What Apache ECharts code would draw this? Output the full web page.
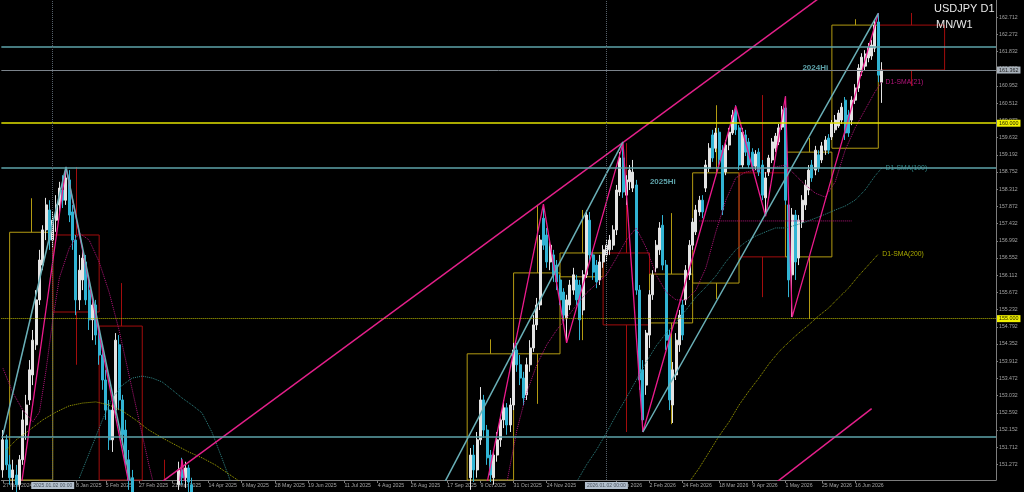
<!DOCTYPE html>
<html>
<head>
<meta charset="utf-8">
<script src="https://cdn.jsdelivr.net/npm/echarts@6/dist/echarts.min.js"></script>
<style>
  html, body { margin: 0; padding: 0; background: #000; }
  #main { width: 1024px; height: 492px; }
</style>
</head>
<body>
<div id="main"></div>
<script>
const FONT = 'Liberation Sans, Arial, sans-serif';
const BAR_COUNT = 300;

// daily candles: [bar, open, close, low, high]
const candleRows = [
  [0, 151.13, 151.90, 150.93, 152.15], [1, 151.90, 151.26, 151.13, 152.03],
  [2, 151.26, 150.93, 150.75, 151.51], [3, 150.93, 151.13, 150.62, 151.39],
  [4, 151.00, 150.75, 150.49, 151.26], [5, 150.75, 151.39, 150.62, 151.51],
  [6, 151.39, 152.41, 151.26, 152.66], [7, 152.28, 152.79, 151.90, 153.05],
  [8, 152.92, 153.69, 152.79, 153.94], [9, 153.56, 154.45, 153.30, 154.71],
  [10, 154.33, 155.48, 154.20, 155.73], [11, 155.48, 156.50, 155.35, 156.76],
  [12, 156.37, 157.27, 156.24, 157.39], [13, 157.27, 157.91, 157.01, 158.09],
  [14, 157.78, 157.01, 156.76, 158.03], [15, 157.01, 157.52, 156.81, 157.73],
  [16, 157.52, 157.91, 157.22, 158.16], [17, 157.91, 158.34, 157.65, 158.50],
  [18, 158.29, 158.03, 157.83, 158.67], [19, 158.03, 158.60, 157.91, 158.88],
  [20, 158.55, 157.65, 157.47, 158.80], [21, 157.73, 157.01, 156.76, 157.91],
  [22, 157.01, 155.48, 155.09, 157.14], [23, 155.48, 156.24, 155.22, 156.63],
  [24, 155.99, 156.55, 155.73, 156.76], [25, 156.45, 155.48, 155.35, 156.63],
  [26, 155.73, 154.97, 154.71, 155.99], [27, 154.97, 155.35, 154.45, 155.53],
  [28, 155.35, 154.58, 154.33, 155.48], [29, 154.58, 154.07, 153.82, 154.84],
  [30, 154.07, 153.43, 153.18, 154.33], [31, 153.43, 152.66, 152.41, 153.69],
  [32, 152.66, 151.90, 151.64, 152.92], [33, 151.90, 152.66, 151.59, 152.92],
  [34, 152.66, 154.45, 152.46, 154.63], [35, 154.33, 152.92, 152.66, 154.58],
  [36, 152.92, 152.03, 151.77, 153.05], [37, 152.15, 151.39, 151.18, 152.41],
  [38, 151.39, 150.87, 150.62, 151.64], [39, 150.93, 150.49, 150.36, 151.13],
  [40, 150.49, 150.24, 149.98, 150.87], [41, 150.24, 149.98, 149.72, 150.49],
  [53, 150.75, 151.13, 150.62, 151.34], [54, 151.13, 150.93, 150.75, 151.44],
  [55, 150.93, 151.18, 150.67, 151.34], [56, 151.18, 150.82, 150.49, 151.26],
  [57, 150.75, 150.49, 150.24, 150.93],
  [141, 150.93, 151.51, 150.62, 151.69], [142, 151.51, 151.13, 150.82, 151.77],
  [143, 151.13, 151.90, 150.93, 152.10], [144, 151.90, 152.92, 151.77, 153.25],
  [145, 152.92, 152.15, 151.95, 153.05], [146, 152.15, 151.44, 151.26, 152.28],
  [147, 151.51, 151.00, 150.82, 151.64], [148, 150.93, 151.51, 150.75, 151.64],
  [149, 151.51, 151.90, 151.34, 152.10], [150, 151.90, 152.41, 151.72, 152.54],
  [151, 152.41, 152.72, 152.20, 152.92], [152, 152.72, 152.28, 152.03, 152.84],
  [153, 152.28, 152.79, 152.10, 152.97], [154, 152.79, 154.20, 152.66, 154.38],
  [155, 154.20, 153.82, 153.64, 154.38], [156, 153.82, 153.48, 153.30, 154.07],
  [157, 153.48, 152.97, 152.79, 153.64], [158, 153.05, 153.82, 152.92, 154.00],
  [159, 153.82, 154.25, 153.64, 154.45], [160, 154.25, 154.84, 154.15, 155.09],
  [161, 154.84, 155.35, 154.71, 155.53], [162, 155.35, 157.01, 155.22, 157.14],
  [163, 157.57, 156.88, 156.76, 157.93], [164, 157.14, 156.45, 156.30, 157.32],
  [165, 156.45, 156.88, 156.24, 157.01], [166, 156.63, 156.12, 155.94, 156.76],
  [167, 156.37, 155.94, 155.73, 156.50], [168, 155.99, 155.48, 155.35, 156.12],
  [169, 155.68, 155.09, 154.92, 155.78], [170, 155.02, 155.48, 154.38, 155.61],
  [171, 155.35, 155.86, 155.22, 155.99], [172, 155.73, 156.12, 155.61, 156.30],
  [173, 155.99, 155.48, 155.35, 156.12], [174, 155.86, 154.97, 154.45, 155.99],
  [175, 155.22, 156.12, 155.09, 156.24], [176, 156.12, 157.65, 156.04, 157.78],
  [177, 157.52, 156.63, 156.45, 157.73], [178, 156.63, 156.19, 155.99, 156.76],
  [179, 156.37, 155.94, 155.78, 156.50], [180, 155.99, 156.45, 155.86, 156.63],
  [181, 156.45, 156.76, 156.30, 156.88], [182, 156.63, 156.88, 156.45, 157.01],
  [183, 156.76, 157.01, 156.63, 157.14], [184, 156.88, 157.27, 156.76, 157.39],
  [185, 157.27, 158.29, 157.14, 158.42], [186, 158.24, 159.11, 158.14, 159.26],
  [187, 159.11, 158.24, 158.09, 159.49], [188, 158.16, 158.55, 157.91, 158.67],
  [189, 158.50, 158.80, 158.29, 158.93], [190, 158.34, 158.75, 158.24, 159.06],
  [191, 158.42, 155.73, 155.61, 158.55], [192, 155.73, 153.43, 153.18, 155.86],
  [193, 153.69, 152.41, 152.10, 153.94], [194, 153.30, 154.63, 153.05, 154.71],
  [195, 154.58, 155.61, 154.25, 155.73], [196, 155.61, 156.12, 155.48, 156.24],
  [197, 156.30, 156.88, 156.19, 157.01], [198, 156.76, 157.32, 156.63, 157.47],
  [199, 157.39, 156.37, 156.24, 157.65], [200, 156.37, 154.45, 154.20, 156.50],
  [201, 154.58, 152.92, 152.66, 154.71], [202, 152.79, 153.69, 152.33, 153.89],
  [203, 153.56, 154.45, 153.43, 154.63], [204, 154.33, 155.09, 154.15, 155.22],
  [205, 155.35, 154.58, 154.45, 155.48], [206, 155.48, 156.24, 155.35, 156.37],
  [207, 156.12, 156.88, 155.99, 157.01], [208, 156.88, 157.47, 156.76, 157.57],
  [209, 157.22, 157.78, 157.14, 157.91], [210, 157.73, 158.03, 157.63, 158.14],
  [211, 158.03, 157.73, 157.57, 158.16], [212, 158.34, 158.93, 158.24, 159.06],
  [213, 158.85, 159.36, 158.75, 159.49], [214, 159.70, 159.11, 159.01, 159.83],
  [215, 159.36, 159.75, 159.26, 159.88], [216, 159.77, 159.06, 158.93, 159.88],
  [217, 159.31, 157.78, 157.65, 159.44], [218, 158.75, 159.44, 158.67, 159.57],
  [219, 159.44, 159.77, 159.31, 159.88], [220, 159.75, 160.21, 159.70, 160.34],
  [221, 160.34, 159.83, 159.70, 160.46], [222, 159.88, 158.93, 158.80, 159.95],
  [223, 158.93, 159.77, 158.85, 159.88], [224, 159.70, 159.26, 159.16, 159.83],
  [225, 159.52, 158.93, 158.85, 159.62], [226, 159.26, 158.90, 158.80, 159.36],
  [227, 158.90, 159.21, 158.80, 159.31], [228, 159.26, 158.75, 158.65, 159.36],
  [229, 158.93, 158.16, 158.03, 159.06], [230, 158.09, 158.60, 157.63, 158.75],
  [231, 158.75, 159.11, 158.65, 159.19], [232, 159.06, 159.52, 158.98, 159.62],
  [233, 159.36, 159.67, 159.26, 159.75], [234, 159.52, 159.88, 159.44, 159.98],
  [235, 159.90, 160.34, 159.83, 160.44], [236, 160.39, 158.03, 157.91, 160.69],
  [237, 157.91, 155.99, 155.55, 158.03], [238, 156.12, 157.65, 155.04, 157.83],
  [239, 157.65, 156.45, 155.99, 157.78], [240, 156.55, 157.52, 156.37, 157.65],
  [241, 157.47, 158.03, 157.32, 158.16], [242, 157.91, 158.42, 157.78, 158.55],
  [243, 158.29, 158.80, 158.16, 158.93], [244, 158.93, 158.60, 158.50, 159.06],
  [245, 158.80, 159.31, 158.67, 159.42], [246, 159.19, 158.85, 158.75, 159.31],
  [247, 159.06, 159.42, 158.98, 159.52], [248, 159.31, 159.57, 159.19, 159.67],
  [249, 159.62, 159.31, 159.21, 159.72], [250, 159.65, 160.00, 159.57, 160.08],
  [251, 159.83, 160.08, 159.75, 160.21], [252, 159.93, 160.26, 159.88, 160.34],
  [253, 160.08, 160.41, 159.98, 160.52], [254, 160.59, 159.75, 159.57, 160.67],
  [255, 160.21, 159.75, 159.65, 160.34], [256, 160.08, 160.59, 159.95, 160.69],
  [257, 160.59, 160.90, 160.49, 161.00], [258, 160.90, 161.41, 160.80, 161.51],
  [259, 161.31, 161.69, 161.21, 161.79], [260, 161.46, 161.77, 161.36, 161.87],
  [261, 161.67, 161.95, 161.56, 162.05], [262, 161.72, 162.00, 161.62, 162.13],
  [263, 161.92, 162.51, 161.82, 162.64], [264, 162.59, 161.23, 161.05, 162.82],
  [265, 161.05, 161.36, 160.52, 161.56]
];

// monthly candles drawn as boxes: [firstBar, lastBar, open, close, high, low]
const monthRows = [
  [2, 15, 149.60, 157.21, 158.08, 148.60],
  [15, 29, 157.14, 155.17, 158.88, 153.82],
  [29, 42, 154.81, 150.60, 155.91, 149.50],
  [42, 55, 150.60, 149.90, 151.39, 146.50],
  [140, 154, 147.90, 154.10, 154.47, 146.60],
  [154, 168, 154.10, 156.17, 157.91, 152.82],
  [168, 181, 156.07, 156.68, 157.78, 154.45],
  [181, 195, 156.68, 154.84, 159.49, 152.10],
  [195, 208, 154.89, 156.14, 157.70, 152.30],
  [208, 222, 155.91, 158.73, 160.46, 155.50],
  [222, 236, 158.73, 156.58, 160.72, 155.55],
  [236, 250, 156.58, 159.26, 159.62, 154.99],
  [250, 264, 159.36, 162.51, 162.66, 159.36],
  [264, 284, 162.51, 161.36, 162.82, 160.95]
];

// moving averages: [bar, price]
const sma21Left = [[0, 153.73], [3, 153.10], [6, 152.66], [9, 152.36], [11, 152.61], [13, 153.69],
  [15, 154.97], [17, 156.04], [20, 156.81], [23, 157.19], [26, 157.01], [29, 156.45], [32, 155.68],
  [35, 154.71], [38, 153.56], [41, 152.41], [44, 151.26], [47, 150.23]];
const sma21Right = [[152, 150.82], [155, 152.15], [158, 153.12], [161, 153.82], [164, 154.33],
  [167, 154.71], [170, 155.02], [173, 155.35], [176, 155.66], [179, 155.89], [182, 156.12],
  [185, 156.55], [188, 157.01], [191, 157.32], [194, 156.81], [197, 156.12], [200, 155.68],
  [203, 155.48], [206, 155.48], [209, 155.73], [212, 156.30], [215, 157.22], [218, 158.03],
  [221, 158.60], [224, 158.75], [227, 158.80], [230, 158.85], [233, 158.88], [236, 158.93],
  [239, 158.67], [242, 158.42], [245, 158.21], [248, 158.11], [251, 158.50], [254, 159.31],
  [257, 159.88], [260, 160.34], [263, 160.80], [265, 161.05]];
const sma21Flat = [[210, 157.50], [256, 157.50]];
const sma100Left = [[23, 150.92], [27, 151.77], [30, 152.41], [33, 152.97], [36, 153.30],
  [39, 153.48], [42, 153.53], [45, 153.48], [48, 153.38], [51, 153.18], [54, 152.97],
  [57, 152.79], [60, 152.59], [63, 152.10], [66, 151.44], [69, 150.75]];
const sma100Right = [[173, 150.82], [176, 151.26], [179, 151.64], [182, 152.08], [185, 152.54],
  [188, 152.97], [191, 153.43], [194, 153.89], [197, 154.30], [200, 154.63], [203, 154.91],
  [206, 155.22], [209, 155.55], [212, 155.81], [215, 156.09], [218, 156.45], [221, 156.76],
  [224, 156.96], [227, 157.11], [230, 157.22], [233, 157.32], [236, 157.32], [239, 157.39],
  [242, 157.47], [245, 157.57], [248, 157.67], [251, 157.78], [254, 157.88], [257, 158.03],
  [260, 158.29], [263, 158.65], [265, 158.85]];
const sma200Left = [[1, 151.64], [4, 151.90], [8, 152.15], [12, 152.41], [16, 152.61],
  [20, 152.77], [24, 152.84], [28, 152.87], [32, 152.79], [36, 152.64], [40, 152.41],
  [44, 152.15], [48, 151.95], [52, 151.77], [56, 151.59], [60, 151.44], [64, 151.26],
  [68, 151.03], [72, 150.80]];
const sma200Right = [[207, 150.82], [210, 151.18], [213, 151.59], [216, 152.00], [219, 152.36],
  [222, 152.79], [225, 153.15], [228, 153.48], [231, 153.84], [234, 154.15], [237, 154.40],
  [240, 154.63], [243, 154.84], [246, 155.07], [249, 155.27], [252, 155.53], [255, 155.78],
  [258, 156.09], [261, 156.37], [264, 156.65]];

// zigzag swing points and hand-drawn trend lines: [bar, price]
const zigzagLeft = [[2, 148.60], [19, 158.88], [48, 146.50], [54, 151.40], [70, 139.90]];
const zigzagRight = [[136, 146.60], [163, 157.93], [170, 154.38], [187, 159.49], [193, 152.10],
  [221, 160.44], [230, 157.62], [236, 160.69], [238, 155.04], [264, 162.81]];
const pinkTrend = [[48, 150.83], [250, 163.44]];
const pinkTrendLow = [[230, 150.60], [262, 152.70]];
const tealTrends = [
  [[0, 152.03], [19, 158.88]],
  [[19, 158.88], [39, 150.60]],
  [[133, 150.78], [187, 159.52]],
  [[193, 152.10], [264, 162.81]]
];

// horizontal levels
const yearHighs = [161.95, 158.87, 151.99];
const bidPrice = 161.362;
const roundLevels = [160.000, 155.000];
const separators = [['15', '2025.01.02 00:00'], ['182', '2026.01.02 00:00']];
const hiLabels = [['245', 161.42, '2024Hi'], ['199', 158.51, '2025Hi']];

// axis ticks
const yTicks = [162.712, 162.272, 161.832, 161.392, 160.952, 160.512, 160.072, 159.632, 159.192,
  158.752, 158.312, 157.872, 157.432, 156.992, 156.552, 156.112, 155.672, 155.232, 154.792,
  154.352, 153.912, 153.472, 153.032, 152.592, 152.152, 151.712, 151.272];
const xTickBars = [0, 22, 31, 41, 51, 62, 72, 82, 92, 103, 113, 123, 134, 144, 154, 164, 185,
  195, 205, 216, 226, 236, 247, 257];
const xTickText = ['27 Nov 2024', '8 Jan 2025', '5 Feb 2025', '27 Feb 2025', '21 Mar 2025',
  '14 Apr 2025', '6 May 2025', '28 May 2025', '19 Jun 2025', '11 Jul 2025', '4 Aug 2025',
  '26 Aug 2025', '17 Sep 2025', '9 Oct 2025', '31 Oct 2025', '24 Nov 2025', '8 Jan 2026',
  '2 Feb 2026', '24 Feb 2026', '18 Mar 2026', '9 Apr 2026', '1 May 2026', '25 May 2026',
  '16 Jun 2026'];

const categories = [];
for (let i = 0; i < BAR_COUNT; i++) categories.push(String(i));
const ohlc = categories.map(() => ['-', '-', '-', '-']);
candleRows.forEach((r) => { ohlc[r[0]] = [r[1], r[2], r[3], r[4]]; });

const tickText = {};
xTickBars.forEach((b, k) => { tickText[b] = xTickText[k]; });
const showTick = (idx) => tickText[idx] !== undefined;

const lineSeries = (data, color, width, type, z, endText) => {
  const s = {
    type: 'line', data, showSymbol: false, symbol: 'none', silent: true, z,
    lineStyle: { color, width, type },
    animation: false
  };
  if (endText) {
    s.endLabel = {
      show: true, formatter: endText, color, fontSize: 6.8,
      fontFamily: FONT, distance: 4
    };
  }
  return s;
};

const priceTag = (text, bg, fg) => ({
  show: true, position: 'end', distance: 1, formatter: text,
  backgroundColor: bg, color: fg, fontSize: 5.4, fontFamily: FONT, padding: [1, 2]
});

const markLines = [];
yearHighs.forEach((v) => markLines.push({ yAxis: v, lineStyle: { color: '#5ea3aa', width: 1.6, type: 'solid' } }));
markLines.push({ yAxis: bidPrice, lineStyle: { color: '#7b838b', width: 1, type: 'solid' },
  label: priceTag(bidPrice.toFixed(3), '#a9b2bb', '#1c1c1c') });
markLines.push({ yAxis: roundLevels[0], lineStyle: { color: '#e2e200', width: 1.6, type: 'solid' },
  label: priceTag(roundLevels[0].toFixed(3), '#f0f000', '#222200') });
markLines.push({ yAxis: roundLevels[1], lineStyle: { color: '#b8b800', width: 1, type: 'dotted' },
  label: priceTag(roundLevels[1].toFixed(3), '#f0f000', '#222200') });
separators.forEach((s) => markLines.push({
  xAxis: s[0], lineStyle: { color: '#56606a', width: 1, type: 'dotted' },
  label: { show: true, position: 'start', distance: 2, formatter: s[1], backgroundColor: '#b3bfcc',
    color: '#49525e', fontSize: 5, fontFamily: FONT, padding: [1, 2] }
}));

const chart = echarts.init(document.getElementById('main'));
chart.setOption({
  backgroundColor: '#000000',
  animation: false,
  title: [
    { text: 'USDJPY D1', left: 934, top: 3, padding: 0,
      textStyle: { color: '#e8e8e8', fontSize: 11, fontWeight: 'normal', fontFamily: FONT } },
    { text: 'MN/W1', left: 936, top: 19, padding: 0,
      textStyle: { color: '#e8e8e8', fontSize: 11, fontWeight: 'normal', fontFamily: FONT } }
  ],
  grid: { left: 0, right: 28, top: 0, bottom: 12, containLabel: false },
  xAxis: {
    type: 'category', data: categories, boundaryGap: true,
    axisLine: { show: true, lineStyle: { color: '#7c7c7c', width: 1 } },
    axisTick: { show: true, interval: showTick, alignWithLabel: true, length: 3, lineStyle: { color: '#7c7c7c' } },
    axisLabel: {
      show: true, interval: showTick, formatter: (v, idx) => tickText[idx] || '',
      align: 'left', color: '#a4a4a4', fontSize: 5.2, fontFamily: FONT, margin: 3
    },
    splitLine: { show: false }
  },
  yAxis: {
    type: 'value', position: 'right', min: 150.872, max: 163.152, scale: true,
    axisLine: { show: true, lineStyle: { color: '#7c7c7c', width: 1 } },
    axisTick: { show: true, customValues: yTicks, length: 2, lineStyle: { color: '#7c7c7c' } },
    axisLabel: {
      show: true, customValues: yTicks, formatter: (v) => v.toFixed(3),
      color: '#a4a4a4', fontSize: 5.2, fontFamily: FONT, margin: 3
    },
    splitLine: { show: false }
  },
  series: [
    {
      type: 'custom', z: 1, silent: true,
      data: monthRows,
      encode: { x: [0, 1], y: [2, 3, 4, 5] },
      renderItem: (params, api) => {
        const sys = params.coordSys;
        const cy = (v) => Math.max(sys.y, Math.min(sys.y + sys.height, v));
        const o = api.value(2), c = api.value(3);
        const left = api.coord([api.value(0), o])[0];
        const right = api.coord([api.value(1), o])[0];
        const top = cy(api.coord([api.value(0), Math.max(o, c)])[1]);
        const bottom = cy(api.coord([api.value(0), Math.min(o, c)])[1]);
        const hi = cy(api.coord([api.value(0), api.value(4)])[1]);
        const lo = cy(api.coord([api.value(0), api.value(5)])[1]);
        const mid = Math.round((left + right) / 2) + 0.5;
        const color = c >= o ? '#b39b12' : '#a30d0d';
        const kids = [];
        if (bottom > top) {
          kids.push({ type: 'rect', shape: { x: left, y: top, width: right - left, height: bottom - top },
            style: { fill: 'transparent', stroke: color, lineWidth: 1 } });
        }
        if (top > hi) kids.push({ type: 'line', shape: { x1: mid, y1: hi, x2: mid, y2: top }, style: { stroke: color, lineWidth: 1 } });
        if (lo > bottom) kids.push({ type: 'line', shape: { x1: mid, y1: bottom, x2: mid, y2: lo }, style: { stroke: color, lineWidth: 1 } });
        return { type: 'group', children: kids };
      }
    },
    {
      type: 'candlestick', z: 2, silent: true, barWidth: 2.5,
      data: ohlc,
      itemStyle: { color: '#e4e4e4', color0: '#31b4d4', borderColor: '#e4e4e4', borderColor0: '#31b4d4', borderWidth: 1 },
      markLine: { silent: true, symbol: ['none', 'none'], label: { show: false }, data: markLines },
      markPoint: {
        silent: true, symbol: 'rect', symbolSize: 0,
        data: hiLabels.map((h) => ({
          coord: [h[0], h[1]],
          label: { show: true, position: 'inside', formatter: h[2], color: '#5ea3aa',
            fontSize: 8, fontWeight: 'bold', fontFamily: FONT }
        }))
      }
    },
    lineSeries(sma21Left, '#b3147a', 1, 'dotted', 3),
    lineSeries(sma21Right, '#b3147a', 1, 'dotted', 3, 'D1-SMA(21)'),
    lineSeries(sma21Flat, '#b3147a', 1, 'dotted', 3),
    lineSeries(sma100Left, '#2f8585', 1, 'dotted', 3),
    lineSeries(sma100Right, '#2f8585', 1, 'dotted', 3, 'D1-SMA(100)'),
    lineSeries(sma200Left, '#a8a800', 1, 'dotted', 3),
    lineSeries(sma200Right, '#a8a800', 1, 'dotted', 3, 'D1-SMA(200)'),
    lineSeries(zigzagLeft, '#ec1a8c', 1.3, 'solid', 4),
    lineSeries(zigzagRight, '#ec1a8c', 1.3, 'solid', 4),
    lineSeries(pinkTrend, '#e4208a', 1.5, 'solid', 4),
    lineSeries(pinkTrendLow, '#e4208a', 1.5, 'solid', 4),
    ...tealTrends.map((t) => lineSeries(t, '#6ab0b8', 1.5, 'solid', 4))
  ]
});
</script>
</body>
</html>
